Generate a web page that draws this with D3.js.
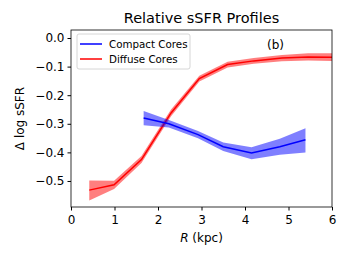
<!DOCTYPE html>
<html>
<head>
<meta charset="utf-8">
<script src="https://cdn.jsdelivr.net/npm/d3@7"></script>
<style>
body { margin: 0; background: #fff; }
text { font-family: "DejaVu Sans", sans-serif; }
</style>
</head>
<body>
<div id="chart"></div>
<script>
// compact cores: radius, median, lower, upper
const compactR = [1.67, 2.25, 2.92, 3.5, 4.15, 4.8, 5.39];
const compactMid = [-0.28, -0.30, -0.338, -0.38, -0.402, -0.38, -0.356];
const compactLo = [-0.305, -0.313, -0.351, -0.395, -0.424, -0.408, -0.40];
const compactHi = [-0.255, -0.287, -0.325, -0.365, -0.382, -0.352, -0.316];

// diffuse cores
const diffuseR = [0.42, 0.99, 1.62, 2.3, 2.95, 3.6, 4.2, 4.85, 5.45, 6.05];
const diffuseMid = [-0.532, -0.513, -0.425, -0.262, -0.142, -0.093, -0.08, -0.07, -0.066, -0.067];
const diffuseLo = [-0.568, -0.528, -0.437, -0.274, -0.152, -0.103, -0.09, -0.081, -0.079, -0.081];
const diffuseHi = [-0.498, -0.499, -0.413, -0.25, -0.132, -0.083, -0.07, -0.059, -0.053, -0.053];

const xTicks = [0, 1, 2, 3, 4, 5, 6];
const yTicks = [0.0, -0.1, -0.2, -0.3, -0.4, -0.5];

const width = 349, height = 262;
const margin = { top: 30, right: 17, bottom: 55, left: 71 };

const x = d3.scaleLinear().domain([0, 6]).range([margin.left, width - margin.right]);
const y = d3.scaleLinear().domain([-0.591, 0.028]).range([height - margin.bottom, margin.top]);

const svg = d3.select("#chart").append("svg")
	.attr("width", width)
	.attr("height", height);

svg.append("defs").append("clipPath").attr("id", "clip")
	.append("rect")
	.attr("x", margin.left).attr("y", margin.top)
	.attr("width", x(6) - x(0)).attr("height", y(-0.591) - y(0.028));

function series(R, mid, lo, hi) {
	return R.map((r, i) => ({ r: r, mid: mid[i], lo: lo[i], hi: hi[i] }));
}

const groups = [
	{ data: series(diffuseR, diffuseMid, diffuseLo, diffuseHi), color: "#ff0000" },
	{ data: series(compactR, compactMid, compactLo, compactHi), color: "#0000ff" }
];

const area = d3.area()
	.x((d) => x(d.r))
	.y0((d) => y(d.lo))
	.y1((d) => y(d.hi));

const line = d3.line()
	.x((d) => x(d.r))
	.y((d) => y(d.mid));

const plot = svg.append("g").attr("clip-path", "url(#clip)");

groups.forEach((g) => {
	plot.append("path")
		.datum(g.data)
		.attr("fill", g.color)
		.attr("fill-opacity", 0.5)
		.attr("d", area);
	plot.append("path")
		.datum(g.data)
		.attr("fill", "none")
		.attr("stroke", g.color)
		.attr("stroke-width", 1.5)
		.attr("d", line);
});

// axes
const minus = (v) => d3.format(".1f")(v).replace("-", "\u2212");

svg.append("g")
	.attr("transform", `translate(0,${height - margin.bottom})`)
	.call(d3.axisBottom(x).tickValues(xTicks).tickFormat(d3.format("d")).tickSize(3.5).tickSizeOuter(0))
	.call((g) => g.select(".domain").remove())
	.call((g) => g.selectAll("text").attr("font-size", 12).attr("fill", "#000").attr("dy", "0.9em"));

svg.append("g")
	.attr("transform", `translate(${margin.left},0)`)
	.call(d3.axisLeft(y).tickValues(yTicks).tickFormat(minus).tickSize(3.5).tickSizeOuter(0))
	.call((g) => g.select(".domain").remove())
	.call((g) => g.selectAll("text").attr("font-size", 12).attr("fill", "#000"));

svg.append("rect")
	.attr("x", margin.left).attr("y", margin.top)
	.attr("width", x(6) - x(0)).attr("height", y(-0.591) - y(0.028))
	.attr("fill", "none").attr("stroke", "#000").attr("stroke-width", 0.8);

// title and labels
svg.append("text")
	.attr("x", (x(0) + x(6)) / 2).attr("y", 23)
	.attr("text-anchor", "middle").attr("font-size", 14.5)
	.text("Relative sSFR Profiles");

const xl = svg.append("text")
	.attr("x", (x(0) + x(6)) / 2).attr("y", 242)
	.attr("text-anchor", "middle").attr("font-size", 12);
xl.append("tspan").attr("font-style", "italic").text("R");
xl.append("tspan").text(" (kpc)");

svg.append("text")
	.attr("transform", `translate(24,${(y(-0.591) + y(0.028)) / 2}) rotate(-90)`)
	.attr("text-anchor", "middle").attr("font-size", 12)
	.text("\u0394 log sSFR");

svg.append("text")
	.attr("x", x(4.7)).attr("y", 49)
	.attr("text-anchor", "middle").attr("font-size", 12)
	.text("(b)");

// legend
const legend = svg.append("g");
legend.append("rect")
	.attr("x", 77).attr("y", 34).attr("width", 113).attr("height", 35)
	.attr("rx", 2).attr("fill", "#fff").attr("fill-opacity", 0.8)
	.attr("stroke", "#ccc").attr("stroke-width", 0.8);

const legendItems = [
	{ label: "Compact Cores", color: "#0000ff" },
	{ label: "Diffuse Cores", color: "#ff0000" }
];
legendItems.forEach((d, i) => {
	const ly = 44 + i * 15;
	legend.append("line")
		.attr("x1", 80).attr("x2", 102).attr("y1", ly).attr("y2", ly)
		.attr("stroke", d.color).attr("stroke-width", 1.5);
	legend.append("text")
		.attr("x", 109).attr("y", ly + 3.7)
		.attr("font-size", 10.3)
		.text(d.label);
});
</script>
</body>
</html>
